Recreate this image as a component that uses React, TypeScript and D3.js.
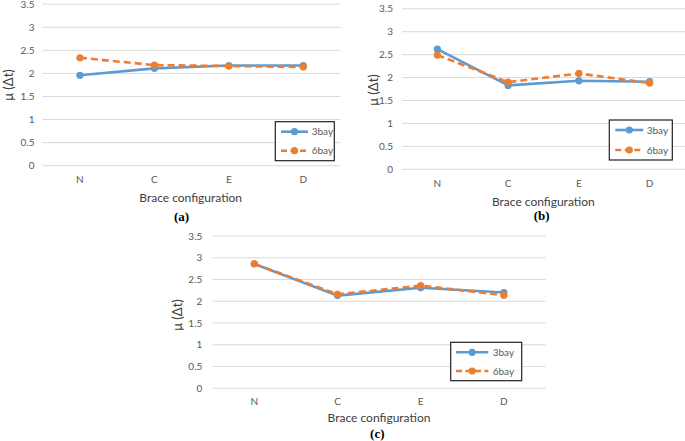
import React from "react";
import * as d3 from "d3";

const categories = ["N", "C", "E", "D"];
const yTicks = [0, 0.5, 1, 1.5, 2, 2.5, 3, 3.5];
const seriesNames = ["3bay", "6bay"];

const a3bay = [1.96, 2.11, 2.17, 2.17];
const a6bay = [2.34, 2.18, 2.16, 2.14];
const b3bay = [2.62, 1.83, 1.93, 1.91];
const b6bay = [2.49, 1.9, 2.09, 1.88];
const c3bay = [2.86, 2.13, 2.31, 2.2];
const c6bay = [2.86, 2.16, 2.36, 2.14];

const panelLabels = ["(a)", "(b)", "(c)"];
const xTitle = "Brace configuration";
const yTitle = "μ (Δt)";

const BLUE = "#5B9BD5";
const ORANGE = "#ED7D31";
const FONT = "Lato, 'Open Sans', sans-serif";

type Layout = {
  x0: number; x1: number; yTop: number; y0: number; tickX: number;
  yt: [number, number]; catY: number; xt: [number, number]; lab: [number, number];
  box: [number, number, number, number]; ly: [number, number]; lx: [number, number]; tx: number;
};

const layouts: Layout[] = [
  { x0: 42.7, x1: 340.5, yTop: 4.2, y0: 165.7, tickX: 34.5, yt: [8, 85], catY: 179.3, xt: [190.7, 197.3], lab: [181.5, 216.5], box: [275.3, 121.7, 334.3, 160.7], ly: [131.7, 150.7], lx: [281, 308], tx: 311.7 },
  { x0: 402, x1: 685, yTop: 8.8, y0: 169.3, tickX: 393, yt: [373.3, 90], catY: 183.3, xt: [543.3, 201.3], lab: [541.7, 215], box: [609.3, 120, 672.3, 160], ly: [130, 150], lx: [615.3, 643.3], tx: 646.7 },
  { x0: 212.7, x1: 545.5, yTop: 236, y0: 388.3, tickX: 202.3, yt: [177.3, 315], catY: 401.7, xt: [379, 417.7], lab: [377.3, 433.8], box: [450.7, 342.3, 521.7, 380.7], ly: [352.3, 371], lx: [456, 488.3], tx: 492.7 },
];

const panelData = [
  [a3bay, a6bay],
  [b3bay, b6bay],
  [c3bay, c6bay],
];

function Panel({ L, data, label }: { L: Layout; data: number[][]; label: string }) {
  const x = d3.scaleBand<string>().domain(categories).range([L.x0, L.x1]);
  const y = d3.scaleLinear().domain([0, 3.5]).range([L.y0, L.yTop]);
  const cx = (c: string) => (x(c) as number) + x.bandwidth() / 2;
  const line = d3
    .line<number>()
    .x((_, i) => cx(categories[i]))
    .y((d) => y(d));
  const colors = [BLUE, ORANGE];
  const dashes = [undefined, "7,4"];
  return (
    <g>
      {yTicks.map((t) => (
        <g key={t}>
          <line x1={L.x0} x2={L.x1} y1={y(t)} y2={y(t)} stroke="#d9d9d9" strokeWidth={1} />
          <text x={L.tickX} y={y(t)} dy="0.35em" textAnchor="end" fontSize={10} fill="#595959" fontFamily={FONT}>
            {t}
          </text>
        </g>
      ))}
      {categories.map((c) => (
        <text key={c} x={cx(c)} y={L.catY} dy="0.35em" textAnchor="middle" fontSize={10} fill="#595959" fontFamily={FONT}>
          {c}
        </text>
      ))}
      <text x={L.xt[0]} y={L.xt[1]} dy="0.35em" textAnchor="middle" fontSize={12} fill="#404040" fontFamily={FONT}>
        {xTitle}
      </text>
      <text
        transform={`translate(${L.yt[0]},${L.yt[1]}) rotate(-90)`}
        dy="0.35em"
        textAnchor="middle"
        fontSize={13}
        fill="#404040"
        fontFamily={FONT}
      >
        {yTitle}
      </text>
      <text x={L.lab[0]} y={L.lab[1]} dy="0.35em" textAnchor="middle" fontSize={13} fontWeight="bold" fontFamily="'Liberation Serif', 'DejaVu Serif', serif" fill="#000">
        {label}
      </text>
      {data.map((s, si) => (
        <g key={si}>
          <path d={line(s) || ""} fill="none" stroke={colors[si]} strokeWidth={2.6} strokeDasharray={dashes[si]} strokeLinejoin="round" />
          {s.map((v, i) => (
            <circle key={i} cx={cx(categories[i])} cy={y(v)} r={3.6} fill={colors[si]} />
          ))}
        </g>
      ))}
      <rect
        x={L.box[0]}
        y={L.box[1]}
        width={L.box[2] - L.box[0]}
        height={L.box[3] - L.box[1]}
        fill="#fff"
        stroke="#222"
        strokeWidth={1.2}
      />
      {seriesNames.map((n, si) => (
        <g key={n}>
          <line x1={L.lx[0]} x2={L.lx[1]} y1={L.ly[si]} y2={L.ly[si]} stroke={colors[si]} strokeWidth={2.6} strokeDasharray={dashes[si] ? "6,3.5" : undefined} />
          <circle cx={(L.lx[0] + L.lx[1]) / 2} cy={L.ly[si]} r={3.6} fill={colors[si]} />
          <text x={L.tx} y={L.ly[si]} dy="0.35em" fontSize={10} fill="#595959" fontFamily={FONT}>
            {n}
          </text>
        </g>
      ))}
    </g>
  );
}

export default function App() {
  return (
    <svg width={685} height={441} style={{ position: "absolute", left: 0, top: 0, background: "#fff" }}>
      <rect width={685} height={441} fill="#fff" />
      {layouts.map((L, i) => (
        <Panel key={i} L={L} data={panelData[i]} label={panelLabels[i]} />
      ))}
    </svg>
  );
}
